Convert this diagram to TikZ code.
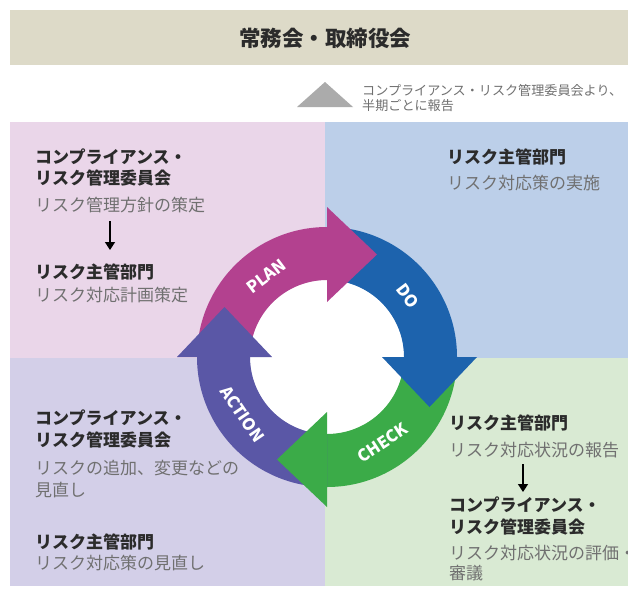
\documentclass[tikz,border=0pt]{standalone}
\usepackage{fontspec}
\setmainfont{Noto Sans CJK JP}
\usetikzlibrary{arrows.meta,calc}
\definecolor{barc}{HTML}{DDDAC8}
\definecolor{pinkq}{HTML}{EAD6E9}
\definecolor{blueq}{HTML}{BCCFE9}
\definecolor{lavq}{HTML}{D3CFE8}
\definecolor{greenq}{HTML}{D9EAD3}
\definecolor{planc}{HTML}{B3418F}
\definecolor{doc}{HTML}{1D63AD}
\definecolor{checkc}{HTML}{3BAB48}
\definecolor{actc}{HTML}{5A57A6}
\definecolor{trig}{HTML}{ABABAB}
\definecolor{headc}{HTML}{2B2B2B}
\definecolor{bodyc}{HTML}{707070}
\tikzset{
  hd/.style={anchor=west, inner sep=0pt, text=headc, text height=15pt, text depth=2pt,
    font=\fontsize{17}{17}\selectfont\bfseries},
  bd/.style={anchor=west, inner sep=0pt, text=bodyc, text height=15pt, text depth=2pt,
    font=\fontsize{17}{17}\selectfont},
  notetext/.style={anchor=west, inner sep=0pt, text=bodyc, text height=11.5pt, text depth=1.5pt,
    font=\fontsize{13.1}{13.1}\selectfont},
  cyclab/.style={inner sep=0pt, text=white, font=\fontsize{16.5}{16.5}\selectfont\bfseries},
  darr/.style={line width=1.5pt, draw=black, -{Triangle[width=10pt,length=8pt]}},
}
\begin{document}
\begin{tikzpicture}[x=1pt,y=-1pt]
\useasboundingbox (0,0) rectangle (628,589);
\fill[white] (0,0) rectangle (628,589);
% top bar
\fill[barc] (10,10) rectangle (628,65);
\node[inner sep=0pt, text=headc, font=\fontsize{21.5}{21.5}\selectfont\bfseries] (board) at (325,38) {常務会・取締役会};
% report triangle and note
\fill[trig] (297,107) -- (353,107) -- (325,82) -- cycle;
\node[notetext] (note1) at (362,90) {コンプライアンス・リスク管理委員会より、};
\node[notetext] (note2) at (362,105) {半期ごとに報告};
% quadrants
\fill[pinkq] (10,122) rectangle (325,358);
\fill[blueq] (325,122) rectangle (628,358);
\fill[lavq] (10,358) rectangle (325,586);
\fill[greenq] (325,358) rectangle (628,586);
% cycle
\begin{scope}[shift={(327,357)}, y=1pt]
  \fill[white] (0,0) circle[radius=77];
  \fill[planc] (180:130) arc[start angle=180,end angle=90,radius=130] -- (90:77) arc[start angle=90,end angle=180,radius=77] -- cycle;
  \fill[doc] (90:130) arc[start angle=90,end angle=0,radius=130] -- (0:77) arc[start angle=0,end angle=90,radius=77] -- cycle;
  \fill[checkc] (0:130) arc[start angle=0,end angle=-90,radius=130] -- (-90:77) arc[start angle=-90,end angle=0,radius=77] -- cycle;
  \fill[actc] (-90:130) arc[start angle=-90,end angle=-180,radius=130] -- (-180:77) arc[start angle=-180,end angle=-90,radius=77] -- cycle;
  \fill[planc] (90:55) -- (90:150) -- ($(90:102.5)+(0:50)$) -- cycle;
  \fill[doc] (0:55) -- (0:150) -- ($(0:102.5)+(-90:50)$) -- cycle;
  \fill[checkc] (-90:55) -- (-90:150) -- ($(-90:102.5)+(-180:50)$) -- cycle;
  \fill[actc] (180:55) -- (180:150) -- ($(180:102.5)+(90:50)$) -- cycle;
  \node[cyclab, rotate=37] (plan) at (127:101) {PLAN};
  \node[cyclab, rotate=-53] (do) at (37:101) {DO};
  \node[cyclab, rotate=33] (check) at (-57:102) {CHECK};
  \node[cyclab, rotate=-56] (action) at (-146:102) {ACTION};
\end{scope}
% top-left (PLAN)
\node[hd] (p1) at (35,157) {コンプライアンス・};
\node[hd] (p2) at (35,178) {リスク管理委員会};
\node[bd] (p3) at (35,205) {リスク管理方針の策定};
\node[hd] (p4) at (35,272) {リスク主管部門};
\node[bd] (p5) at (35,295) {リスク対応計画策定};
\coordinate (pa1) at (110,221);
\coordinate (pa2) at (110,250);
\draw[darr] (pa1) -- (pa2);
% top-right (DO)
\node[hd] (d1) at (447,157) {リスク主管部門};
\node[bd] (d2) at (447,183) {リスク対応策の実施};
% bottom-left (ACTION)
\node[hd] (a1) at (35,418) {コンプライアンス・};
\node[hd] (a2) at (35,440) {リスク管理委員会};
\node[bd] (a3) at (35,468) {リスクの追加、変更などの};
\node[bd] (a4) at (35,490) {見直し};
\node[hd] (a5) at (35,542) {リスク主管部門};
\node[bd] (a6) at (35,563) {リスク対応策の見直し};
% bottom-right (CHECK)
\node[hd] (c1) at (449,423) {リスク主管部門};
\node[bd] (c2) at (449,450) {リスク対応状況の報告};
\coordinate (ca1) at (523,464);
\coordinate (ca2) at (523,492);
\draw[darr] (ca1) -- (ca2);
\node[hd] (c3) at (449,505) {コンプライアンス・};
\node[hd] (c4) at (449,527) {リスク管理委員会};
\node[bd] (c5) at (449,553) {リスク対応状況の評価・};
\node[bd] (c6) at (449,573) {審議};
\end{tikzpicture}
\end{document}
